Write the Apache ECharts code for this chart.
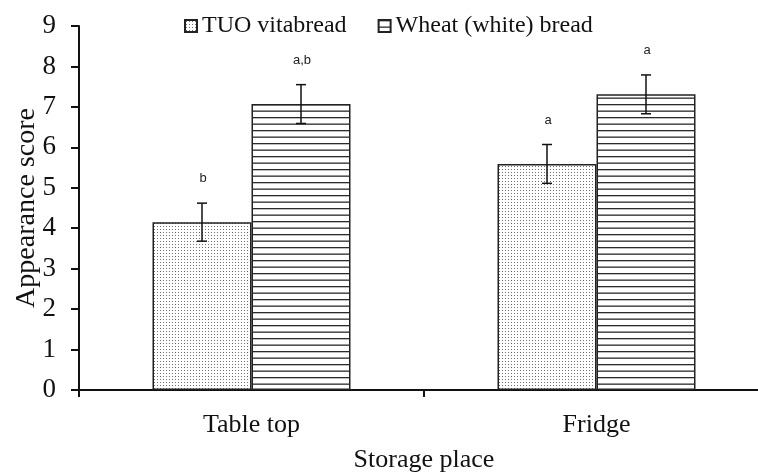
<!DOCTYPE html>
<html>
<head>
<meta charset="utf-8">
<title>Appearance score by storage place</title>
<script src="https://cdn.jsdelivr.net/npm/echarts@6/dist/echarts.min.js"></script>
<style>
  html, body { margin: 0; padding: 0; background: #fff; }
  #chart { width: 758px; height: 472px; }
</style>
</head>
<body>
<div id="chart"></div>
<script>
// data
const categories = ['Table top', 'Fridge'];
const seriesNames = ['TUO vitabread', 'Wheat (white) bread'];
const tuoValues = [4.15, 5.59];
const tuoErrors = [0.47, 0.48];
const tuoLetters = ['b', 'a'];
const wheatValues = [7.07, 7.31];
const wheatErrors = [0.48, 0.48];
const wheatLetters = ['a,b', 'a'];
const yTicks = [0, 1, 2, 3, 4, 5, 6, 7, 8, 9];

const serif = '"Liberation Serif", "DejaVu Serif", serif';
const BAR_W = 99;

// fill patterns
function dotPattern() {
    const c = document.createElement('canvas');
    c.width = 3; c.height = 3;
    const ctx = c.getContext('2d');
    ctx.fillStyle = '#fff';
    ctx.fillRect(0, 0, 3, 3);
    ctx.fillStyle = '#707070';
    ctx.fillRect(1, 1, 1, 1);
    return c;
}
function stripePattern() {
    const c = document.createElement('canvas');
    c.width = 4; c.height = 13;
    const ctx = c.getContext('2d');
    ctx.fillStyle = '#fff';
    ctx.fillRect(0, 0, 4, 13);
    ctx.fillStyle = '#2a2a2a';
    ctx.fillRect(0, 0, 4, 1.3);
    ctx.fillRect(0, 6.5, 4, 1.3);
    return c;
}

function errorSeries(values, errors, letters, offset) {
    return {
        type: 'custom',
        silent: true,
        z: 10,
        data: values.map((v, i) => [i, v, errors[i]]),
        renderItem: function (params, api) {
            const i = api.value(0);
            const v = api.value(1);
            const e = api.value(2);
            const top = api.coord([i, v + e]);
            const bot = api.coord([i, v - e]);
            const x = top[0] + offset;
            const cap = 5;
            const st = { stroke: '#111', lineWidth: 1.5 };
            return {
                type: 'group',
                children: [
                    { type: 'line', shape: { x1: x, y1: top[1], x2: x, y2: bot[1] }, style: st },
                    { type: 'line', shape: { x1: x - cap, y1: top[1], x2: x + cap, y2: top[1] }, style: st },
                    { type: 'line', shape: { x1: x - cap, y1: bot[1], x2: x + cap, y2: bot[1] }, style: st },
                    { type: 'text', x: x + 1, y: top[1] - 18,
                      style: { text: letters[i], fill: '#222', font: '13px "Liberation Sans", Arial, sans-serif',
                               align: 'center', verticalAlign: 'bottom' } }
                ]
            };
        }
    };
}

const chart = echarts.init(document.getElementById('chart'));
chart.setOption({
    animation: false,
    backgroundColor: '#fff',
    grid: { left: 79, right: -11, top: 26, bottom: 82, outerBoundsMode: 'none', containLabel: false },
    legend: {
        data: seriesNames,
        top: 9,
        left: 179,
        itemWidth: 12,
        itemHeight: 12,
        itemGap: 31,
        icon: 'rect',
        textStyle: { fontFamily: serif, fontSize: 24, color: '#111' }
    },
    xAxis: {
        type: 'category',
        data: categories,
        name: 'Storage place',
        nameLocation: 'middle',
        nameGap: 57,
        nameTextStyle: { fontFamily: serif, fontSize: 26, color: '#111' },
        axisLine: { lineStyle: { color: '#111', width: 2 } },
        axisTick: { show: true, length: 7, lineStyle: { color: '#111', width: 2 } },
        axisLabel: { fontFamily: serif, fontSize: 26, color: '#111', margin: 22 }
    },
    yAxis: {
        type: 'value',
        min: yTicks[0],
        max: yTicks[yTicks.length - 1],
        interval: 1,
        name: 'Appearance score',
        nameLocation: 'middle',
        nameGap: 38,
        nameMoveOverlap: false,
        nameTextStyle: { fontFamily: serif, fontSize: 28, color: '#111' },
        splitLine: { show: false },
        axisLine: { show: true, lineStyle: { color: '#111', width: 2 } },
        axisTick: { show: true, length: 8, lineStyle: { color: '#111', width: 2 } },
        axisLabel: { fontFamily: serif, fontSize: 27, color: '#111', margin: 23 }
    },
    series: [
        {
            name: seriesNames[0],
            type: 'bar',
            data: tuoValues,
            barWidth: BAR_W,
            barGap: '0%',
            itemStyle: { color: { image: dotPattern(), repeat: 'repeat' }, borderColor: '#222', borderWidth: 1.5 }
        },
        {
            name: seriesNames[1],
            type: 'bar',
            data: wheatValues,
            barWidth: BAR_W,
            barGap: '0%',
            itemStyle: { color: { image: stripePattern(), repeat: 'repeat' }, borderColor: '#222', borderWidth: 1.5 }
        },
        errorSeries(tuoValues, tuoErrors, tuoLetters, -BAR_W / 2),
        errorSeries(wheatValues, wheatErrors, wheatLetters, BAR_W / 2)
    ]
});
</script>
</body>
</html>
